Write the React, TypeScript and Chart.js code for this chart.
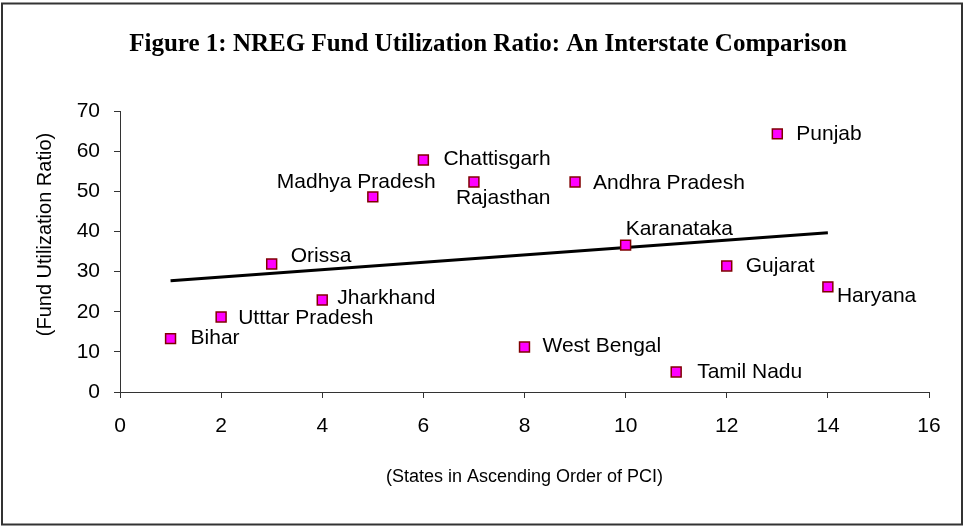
import React, { useEffect, useRef } from "react";
import { Chart, registerables } from "chart.js";

Chart.register(...registerables);

// ---- Data ----
const states = [
  "Bihar",
  "Utttar Pradesh",
  "Orissa",
  "Jharkhand",
  "Madhya Pradesh",
  "Chattisgarh",
  "Rajasthan",
  "West Bengal",
  "Andhra Pradesh",
  "Karanataka",
  "Tamil Nadu",
  "Gujarat",
  "Punjab",
  "Haryana",
];
const pciRank = [1, 2, 3, 4, 5, 6, 7, 8, 9, 10, 11, 12, 13, 14];
const fundUtilization = [13.3, 18.7, 31.9, 22.9, 48.6, 57.8, 52.3, 11.2, 52.3, 36.6, 5.0, 31.4, 64.3, 26.2];
const trendX = [1, 14];
const trendY = [27.7, 39.7];

const titleText = "Figure 1: NREG Fund Utilization Ratio: An Interstate Comparison";
const xTitle = "(States in Ascending Order of PCI)";
const yTitle = "(Fund Utilization Ratio)";

// label placement (style only): [dx, dy] from marker centre, left aligned
const labelOffsets: [number, number][] = [
  [20, 0],
  [17, 1],
  [19, -8],
  [15, -2],
  [-96, -15],
  [20, -1],
  [-18, 16],
  [18, -1],
  [18, 1],
  [0, -16],
  [21, 0],
  [19, 0],
  [19, 0],
  [9, 9],
];

const SANS = '"Liberation Sans", Arial, sans-serif';
const SERIF = '"Liberation Serif", "Times New Roman", serif';

const decorPlugin = {
  id: "decor",
  beforeDraw(chart: any) {
    const { ctx, width, height } = chart;
    ctx.save();
    ctx.fillStyle = "#ffffff";
    ctx.fillRect(0, 0, width, height);
    ctx.restore();
  },
  afterDatasetsDraw(chart: any) {
    const { ctx, chartArea } = chart;
    const meta = chart.getDatasetMeta(0);
    ctx.save();
    ctx.font = "21px " + SANS;
    ctx.fillStyle = "#000";
    ctx.textBaseline = "middle";
    ctx.textAlign = "left";
    meta.data.forEach((pt: any, i: number) => {
      const [dx, dy] = labelOffsets[i];
      ctx.fillText(states[i], pt.x + dx, pt.y + dy);
    });
    // y axis title
    ctx.translate(chartArea.left - 75, (chartArea.top + chartArea.bottom) / 2 - 17);
    ctx.rotate(-Math.PI / 2);
    ctx.textAlign = "center";
    ctx.font = "20px " + SANS;
    ctx.fillText(yTitle, 0, 0);
    ctx.restore();
  },
  afterDraw(chart: any) {
    const { ctx } = chart;
    ctx.save();
    ctx.strokeStyle = "#333";
    ctx.lineWidth = 2;
    ctx.strokeRect(2, 3.5, 960, 521);
    ctx.restore();
  },
};

export default function App() {
  const ref = useRef<HTMLCanvasElement | null>(null);

  useEffect(() => {
    if (!ref.current) return;
    const chart = new Chart(ref.current, {
      type: "scatter",
      data: {
        datasets: [
          {
            type: "scatter",
            label: "Fund Utilization Ratio",
            data: pciRank.map((x, i) => ({ x, y: fundUtilization[i] })),
            pointStyle: "rect",
            pointRadius: 7,
            pointHoverRadius: 7,
            pointBackgroundColor: "#FF00FF",
            pointBorderColor: "#800000",
            pointBorderWidth: 1.5,
            order: 0,
          },
          {
            type: "line",
            label: "Trend",
            data: trendX.map((x, i) => ({ x, y: trendY[i] })),
            borderColor: "#000",
            borderWidth: 3,
            pointRadius: 0,
            showLine: true,
            fill: false,
            order: 1,
          },
        ],
      } as any,
      options: {
        responsive: false,
        animation: false,
        devicePixelRatio: 1,
        layout: { padding: { left: 47, right: 35, top: 0, bottom: 0 } },
        plugins: {
          legend: { display: false },
          tooltip: { enabled: false },
          title: {
            display: true,
            text: titleText,
            color: "#000",
            font: { family: SERIF, size: 25, weight: "bold" },
            padding: { top: 30, bottom: 51 },
          },
        },
        scales: {
          x: {
            type: "linear",
            min: 0,
            max: 16,
            ticks: { stepSize: 2, color: "#000", font: { family: SANS, size: 21 }, padding: 16 },
            grid: { drawOnChartArea: false, drawTicks: true, tickLength: 6, color: "#333" },
            border: { display: true, color: "#333", width: 1 },
            title: {
              display: true,
              text: xTitle,
              color: "#000",
              font: { family: SANS, size: 18 },
              padding: { top: 0, bottom: 39 },
            },
            afterFit(s: any) {
              s.height = 135;
            },
          },
          y: {
            type: "linear",
            min: 0,
            max: 70,
            ticks: { stepSize: 10, color: "#000", font: { family: SANS, size: 21 }, padding: 14 },
            grid: { drawOnChartArea: false, drawTicks: true, tickLength: 6, color: "#333" },
            border: { display: true, color: "#333", width: 1 },
            afterFit(s: any) {
              s.width = 73;
            },
          },
        },
      } as any,
      plugins: [decorPlugin],
    });
    return () => chart.destroy();
  }, []);

  return (
    <div style={{ position: "fixed", left: 0, top: 0, width: 964, height: 527 }}>
      <canvas ref={ref} width={964} height={527} style={{ display: "block" }} />
    </div>
  );
}
